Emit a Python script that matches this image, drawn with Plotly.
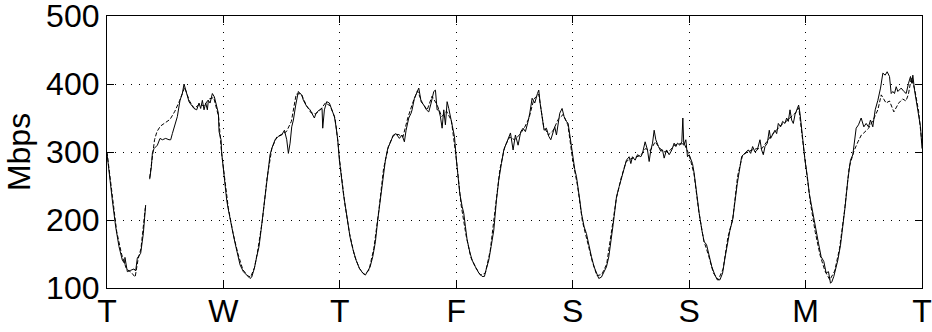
import plotly.graph_objects as go

# ---- data (hours from Tuesday 00:00, Mbps) ----
solid_hours = [
    0.0, 0.21, 0.62, 1.1, 1.79, 2.47, 3.16, 3.64, 3.7, 4.19, 4.88, 5.57, 5.91, 6.25, 6.94, 7.49, 7.97,
    8.4,
    8.8, 9.14, 9.35, 9.69, 10.38, 10.93, 11.41, 12.1, 12.78, 13.13, 13.47, 13.95, 14.5, 15.05, 15.53,
    15.88, 16.22, 16.56, 16.9, 17.39, 17.94, 18.49, 18.97, 19.31, 19.66, 20.0, 20.35, 20.69,
    20.9, 21.24, 21.72, 22.13, 22.62, 22.96, 23.1, 23.51, 23.65, 23.99, 24.33, 24.68, 25.02, 25.36,
    25.85, 26.4, 26.88, 27.43, 28.11, 28.8, 29.49, 29.83, 30.38, 30.86, 31.34, 31.76, 32.24, 32.72,
    33.27, 33.61, 33.96, 34.64, 35.33, 36.02, 36.57, 37.05, 37.39, 37.74, 38.08, 38.42, 38.9, 39.45,
    39.8, 40.14, 40.48, 41.17, 41.86,
    42.4, 42.75, 43.09, 43.78, 44.33, 44.47, 44.81, 45.29, 45.84, 46.39, 46.87, 47.22, 47.56, 47.9,
    48.25, 48.73, 49.14, 49.62, 50.1, 50.65, 51.34, 52.03, 52.71, 53.26, 53.74, 54.23, 54.78, 55.33,
    55.81, 56.29, 56.84, 57.39, 57.87, 58.56, 59.04, 59.59, 60.27, 60.82, 61.3, 61.65, 62.2, 62.68,
    62.89, 63.37, 63.92, 64.27, 64.75, 65.3, 65.85, 66.33, 66.81, 67.36, 67.7, 68.05, 68.39, 68.73,
    69.08, 69.42, 69.76, 70.11, 70.45, 70.8, 71.14, 71.62, 72.03, 72.31, 72.72, 73.2, 73.54, 73.89,
    74.23, 74.78, 75.26, 75.95, 76.64, 77.32, 77.8, 78.22, 78.7, 79.18, 79.73, 80.28, 80.76, 81.31,
    81.79, 82.34, 82.82, 83.17,
    83.71, 84.19, 84.74, 85.29, 85.77, 86.25, 86.8, 87.15, 87.63, 88.18, 88.73, 89.0, 89.28, 89.69,
    90.1, 90.58, 91.07, 91.48, 91.96, 92.3, 92.65, 92.99, 93.33, 93.81, 94.23, 94.71, 95.05, 95.4,
    95.74, 96.08, 96.43, 96.77, 97.11, 97.46, 97.8, 98.35, 98.83, 99.31, 99.86, 100.41, 100.89,
    101.37, 101.92, 102.47, 102.95, 103.44, 103.99, 104.33,
    104.54, 105.02, 105.57, 106.12, 106.6, 107.08, 107.63, 107.98, 108.32, 108.87, 109.35, 110.04,
    110.38, 110.93, 111.41, 111.76, 112.1, 112.45, 112.79, 113.13, 113.68, 114.16, 114.51, 114.85,
    115.33, 115.88, 116.43, 116.91, 117.26, 117.6, 118.08, 118.49, 118.7, 118.9, 119.32, 119.66,
    120.0, 120.35, 120.69, 121.03, 121.52, 122.07, 122.62, 123.1, 123.58, 124.13, 124.68,
    125.32, 125.8, 126.35, 126.9, 127.38, 127.86, 128.41, 128.96, 129.44, 129.93, 130.48, 130.82,
    131.16, 131.71, 132.19, 132.68, 133.09, 133.57, 134.05, 134.6, 134.94, 135.29, 135.63, 136.11,
    136.52, 136.8, 137.21, 137.69, 138.04, 138.38, 138.86, 139.27, 139.75, 140.1, 140.44, 140.79,
    141.13, 141.47, 141.82, 142.3, 142.57, 142.85, 143.19, 143.53, 143.88, 144.36, 144.77, 145.25,
    145.6,
    146.18, 146.66, 147.21, 147.76, 148.24, 148.72, 149.14, 149.41, 149.82, 150.3, 150.65, 151.2,
    151.68, 152.16, 152.71, 153.26, 153.74, 154.08, 154.43, 154.91, 155.46, 156.01, 156.49, 156.97,
    157.38, 157.86, 158.35, 158.9, 159.45, 159.93, 160.41, 160.82, 161.3, 161.65, 161.99, 162.33,
    162.68, 163.02, 163.36, 163.71, 164.26, 164.74, 165.22, 165.63, 165.91, 166.11, 166.46, 166.8,
    167.28, 167.69, 168.0,
]
solid_mbps = [
    298, 283, 261, 229, 190, 161, 141, 136, 145, 124, 126, 128, 125, 144, 151, 180, 222,
    None,
    260, 278, 298, 305, 310, 320, 318, 320, 318, 318, 327, 340, 352, 376, 386,
    400, 391, 386, 374, 369, 364, 362, 372, 364, 376, 362, 372, 362,
    376, 372, 386, 381, 367, 357, 330, 318, 298, 274, 249, 229, 215, 200,
    185, 166, 151, 134, 124, 119, 114, 116, 129, 146, 161, 185, 215, 244,
    278, 296, 305, 318, 323, 325, 332, 318, 298, 313, 337, 347, 369, 389,
    386, 384, 376, 367, 362,
    354, 350, 357, 362, 364, 335, 362, 374, 372, 362, 352, 337, 318, 288,
    264, 239, 220, 195, 175, 158, 141, 129, 122, 119, 124, 131, 146, 168,
    200, 229, 259, 288, 305, 318, 325, 327, 320, 325, 315, 332, 350, 357,
    362, 379, 389, 394, 374, 369, 362, 359, 372, 389, 391, 362, 362, 352,
    335, 362, 340, 374, 364, 352, 342, 323, 288, 269, 239, 220, 210, 190,
    171, 153, 141, 131, 122, 117, 117, 129, 141, 161, 185, 229, 259, 283,
    303, 313, 323, 328,
    303, 325, 310, 330, 335, 330, 345, 357, 379, 372, 386, 391, 372, 350,
    332, 335, 323, 318, 330, 337, 325, 345, 357, 364, 352, 345, 342, 325,
    308, 288, 274, 264, 249, 229, 210, 190, 180, 163, 146, 131, 122,
    114, 116, 124, 131, 146, 171, 193,
    205, 234, 249, 264, 278, 288, 293, 283, 293, 288, 296, 293,
    298, 315, 303, 286, 303, 313, 332, 318, 308, 301, 303, 291,
    303, 296, 303, 313, 308, 313, 310, 315, 350, 310, 318, 293,
    296, 288, 283, 269, 239, 210, 185, 168, 164, 146, 131,
    119, 112, 112, 122, 144, 166, 185, 200, 229, 254, 278, 293,
    296, 300, 303, 298, 308, 300, 303, 318, 303, 296, 308, 313,
    332, 320, 325, 332, 327, 342, 337, 345, 342, 350, 345, 362,
    347, 342, 355, 364, 369, 357, 332, 308, 288, 264, 239, 220,
    205,
    180, 166, 146, 139, 122, 124, 107, 109, 117, 131, 141, 163,
    190, 220, 259, 288, 296, 318, 335, 340, 350, 337, 342, 337,
    347, 337, 362, 376, 394, 416, 413, 418, 411, 386, 389, 386,
    396, 389, 391, 394, 389, 386, 401, 411, 401, 413, 391, 374,
    357, 337, 305,
]

dashed_hours = [
    0, 1, 2, 3, 4, 5, 5.8, 6.4, 7, 7.9, 8.4, 8.8, 9.3, 9.8, 10.3, 11, 12, 13, 14, 15, 16, 17, 18,
    19, 20, 21, 22, 23, 23.6, 24, 25, 26, 27, 28, 29, 29.6, 30.4, 31, 32, 33, 34, 35, 36, 37, 38,
    38.5, 39, 40, 41, 42, 43, 44, 45, 46, 47, 47.6, 48, 49, 50, 51, 52, 53, 54, 55, 56, 57, 58, 59,
    60, 61, 62, 63, 64, 65, 66, 67, 68, 69, 70, 71, 72, 73, 74, 75, 76, 77, 78, 79, 80, 81, 82, 83,
    84, 85, 86, 87, 88, 89, 90, 91, 92, 93, 94, 95, 96, 97, 98, 99, 100, 101, 102, 103, 104, 105,
    106, 107, 108, 109, 110, 111, 112, 113, 114, 115, 116, 117, 118, 119, 120, 121, 122, 123, 124,
    125, 126, 127, 128, 129, 130, 131, 132, 133, 134, 135, 136, 137, 138, 139, 140, 141, 142, 142.6,
    143, 144, 145, 146, 147, 148, 149, 150, 151, 152, 153, 154, 154.8, 155.5, 156, 157, 158, 158.9,
    159.6, 160.6, 161.3, 162.2, 163.2, 164, 164.7, 165.2, 165.8, 166.5, 167.3, 168,
]
dashed_mbps = [
    300, 240, 183, 150, 128, 123, 116, 142, 158, 218, None, 262, 295, 318, 330, 338, 343, 348, 360,
    376, 395, 375, 364, 370, 368, 378, 380, 352, 300, 275, 218, 180, 150, 127, 118, 116, 130, 152,
    198, 262, 306, 322, 326, 330, 345, 365, 385, 386, 370, 358, 356, 362, 372, 368, 350, 315, 285,
    225, 180, 148, 129, 120, 126, 158, 212, 275, 308, 324, 326, 322, 350, 372, 390, 372, 362, 382,
    370, 352, 360, 346, 290, 222, 178, 145, 130, 119, 122, 155, 215, 275, 308, 322, 318, 325, 335,
    350, 378, 385, 338, 325, 332, 348, 355, 340, 288, 250, 198, 170, 140, 118, 120, 135, 180, 232,
    262, 286, 290, 292, 295, 305, 302, 315, 305, 300, 302, 310, 312, 312, 296, 268, 212, 170, 148,
    122, 112, 128, 175, 202, 265, 295, 300, 303, 305, 305, 315, 325, 332, 340, 345, 352, 358, 365,
    340, 282, 225, 182, 148, 125, 112, 125, 158, 212, 278, 302, 315, 325, 328, 335, 348, 362,
    384, 372, 375, 359, 372, 378, 375, 385, 409, 392, 360, 312,
]

day_ticks = [0, 24, 48, 72, 96, 120, 144, 168]
day_labels = ["T", "W", "T", "F", "S", "S", "M", "T"]
y_ticks = [100, 200, 300, 400, 500]

FONT = "Liberation Sans, Arial, Helvetica, sans-serif"

fig = go.Figure()
fig.add_trace(go.Scatter(
    x=dashed_hours, y=dashed_mbps, mode="lines",
    line=dict(color="black", width=1, dash="4px,2px"),
    showlegend=False, hoverinfo="skip",
))
fig.add_trace(go.Scatter(
    x=solid_hours, y=solid_mbps, mode="lines",
    line=dict(color="black", width=1),
    showlegend=False, hoverinfo="skip",
))

axis_common = dict(
    showline=True, linecolor="black", linewidth=1.2, mirror="ticks",
    ticks="inside", ticklen=7, tickcolor="black", tickwidth=1,
    showgrid=True, gridcolor="black", gridwidth=1, griddash="1px,7px",
    zeroline=False, tickfont=dict(family=FONT, size=32, color="black"),
    ticklabeloverflow="allow",
)

fig.update_xaxes(
    range=[0, 168], tickmode="array", tickvals=day_ticks, ticktext=day_labels,
    ticklabelstandoff=-6,
    **axis_common,
)
fig.update_yaxes(
    range=[100, 500], tickmode="array", tickvals=y_ticks,
    title=dict(text="Mbps", font=dict(family=FONT, size=32, color="black"), standoff=5),
    **axis_common,
)

fig.update_layout(
    width=932, height=332,
    margin=dict(l=107, r=10, t=16, b=44, autoexpand=False),
    paper_bgcolor="white", plot_bgcolor="white",
    showlegend=False,
)

fig.write_html("out.html")
